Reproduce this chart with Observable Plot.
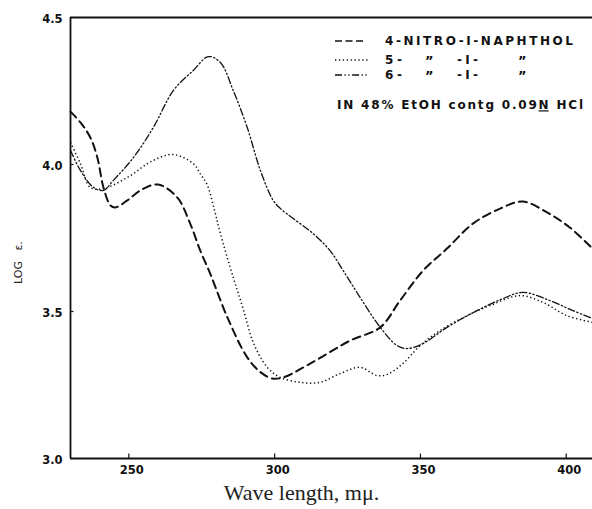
<!DOCTYPE html>
<html>
<head>
<meta charset="utf-8">
<script src="https://cdn.jsdelivr.net/npm/d3@7"></script>
<script src="https://cdn.jsdelivr.net/npm/@observablehq/plot@0.6"></script>
<style>
  html, body { margin: 0; padding: 0; background: #fff; }
  #chart { position: relative; width: 592px; height: 509px; }
</style>
</head>
<body>
<div id="chart"></div>
<script>
// ---- Data ----
const xTicks = [250, 300, 350, 400];
const yTicks = [3.0, 3.5, 4.0, 4.5];
const yTickLabels = ["3.0", "3.5", "4.0", "4.5"];

const nitro4Wl = [230, 233.4, 236.8, 239.2, 241.3, 243.7, 245.4, 249.5, 254, 260, 266.6, 271, 274.5, 277.9, 283.8, 290.6, 295, 299.2, 303, 312.2, 325.9, 336.2, 343, 350.9, 359.1, 368, 377.3, 385.1, 393.4, 401.2, 409];
const nitro4Log = [4.18, 4.143, 4.092, 4.024, 3.922, 3.861, 3.854, 3.878, 3.912, 3.932, 3.888, 3.80, 3.707, 3.629, 3.48, 3.344, 3.295, 3.272, 3.276, 3.323, 3.401, 3.446, 3.537, 3.639, 3.714, 3.799, 3.85, 3.874, 3.837, 3.786, 3.714];

const nitro5Wl = [230, 233.4, 236.8, 241.3, 249.5, 258.4, 265.3, 272.2, 274.5, 276.9, 279.5, 281.4, 285.8, 289.4, 292.8, 297.5, 301.9, 308.8, 315.6, 322.5, 329.3, 335.1, 338.6, 344, 349.9, 356.7, 366, 373.8, 384.1, 392, 400.2, 409];
const nitro5Log = [4.075, 4.003, 3.922, 3.918, 3.956, 4.014, 4.034, 4.002, 3.968, 3.93, 3.84, 3.765, 3.616, 3.503, 3.391, 3.31, 3.276, 3.259, 3.259, 3.289, 3.31, 3.282, 3.286, 3.323, 3.384, 3.435, 3.486, 3.52, 3.554, 3.531, 3.486, 3.463];

const nitro6Wl = [230, 233.4, 237.9, 241.3, 244.7, 251.6, 258.4, 265.3, 272.1, 277.3, 281.4, 285.8, 290.6, 295.1, 299.5, 302, 306.4, 313.2, 319, 323.5, 329.3, 336.2, 342, 345.4, 350.9, 359.1, 369.4, 378.3, 385.1, 394.4, 402.3, 409];
const nitro6Log = [4.048, 3.98, 3.922, 3.912, 3.946, 4.024, 4.126, 4.252, 4.32, 4.367, 4.347, 4.252, 4.126, 3.98, 3.878, 3.85, 3.816, 3.765, 3.707, 3.639, 3.548, 3.446, 3.384, 3.374, 3.391, 3.446, 3.503, 3.544, 3.565, 3.537, 3.503, 3.476];

const seriesNames = ["4-NITRO-I-NAPHTHOL", "5- ” -I- ”", "6- ” -I- ”"];
const conditionText = "IN 48% EtOH contg 0.09N HCl";
const xLabel = "Wave length, mμ.";
const yLabel = "LOG   ε.";

// ---- Build tables ----
const toRows = (wl, v) => wl.map((w, i) => ({wl: w, log: v[i]}));
const s4 = toRows(nitro4Wl, nitro4Log);
const s5 = toRows(nitro5Wl, nitro5Log);
const s6 = toRows(nitro6Wl, nitro6Log);

const styles = {
  dashed: {stroke: "#111", strokeWidth: 2, strokeDasharray: "8,5"},
  dotted: {stroke: "#111", strokeWidth: 1.5, strokeDasharray: "1.3,2.6", strokeLinecap: "butt"},
  dashdot: {stroke: "#111", strokeWidth: 1.3, strokeDasharray: "7,2.5,1.3,2.5,1.3,2.5"}
};

const tickFont = {fontFamily: "DejaVu Sans", fontWeight: "bold", fontSize: 11.5, fill: "#111"};

const xDomain = [230, 409];
const yDomain = [3.0, 4.5];

const plot = Plot.plot({
  width: 592,
  height: 509,
  marginLeft: 70,
  marginRight: 0,
  marginTop: 17,
  marginBottom: 51,
  x: {domain: xDomain},
  y: {domain: yDomain},
  style: {background: "#fff", overflow: "visible"},
  marks: [
    // frame: top, bottom, left
    Plot.ruleY([yDomain[0], yDomain[1]], {stroke: "#111", strokeWidth: 1.8}),
    Plot.ruleX([xDomain[0]], {stroke: "#111", strokeWidth: 1.8}),
    // small inward ticks
    Plot.ruleX(xTicks, {y1: yDomain[0], y2: yDomain[0] + 0.015, stroke: "#111", strokeWidth: 1.2}),
    Plot.ruleY(yTicks.slice(1, 3), {x1: xDomain[0], x2: xDomain[0] + 1.2, stroke: "#111", strokeWidth: 1.2}),
    // axes labels
    Plot.axisX(xTicks, {tickSize: 0, tickPadding: 7, label: null, ...tickFont, style: "letter-spacing:3px", dx: 3}),
    Plot.axisY(yTicks, {tickSize: 0, tickPadding: 8, label: null, dy: 2, tickFormat: (d) => yTickLabels[yTicks.indexOf(d)], ...tickFont}),
    // curves
    Plot.line(s4, {x: "wl", y: "log", curve: "catmull-rom", ...styles.dashed}),
    Plot.line(s5, {x: "wl", y: "log", curve: "catmull-rom", ...styles.dotted}),
    Plot.line(s6, {x: "wl", y: "log", curve: "catmull-rom", ...styles.dashdot}),
    // axis titles
    Plot.text([xLabel], {frameAnchor: "bottom", dx: -30, dy: 41, fontFamily: "Liberation Serif", fontSize: 22, fill: "#222", style: "letter-spacing:2.2px"}),
    Plot.text([yLabel], {frameAnchor: "left", rotate: -90, dx: -52, dy: 46, fontFamily: "DejaVu Sans", fontSize: 11, fill: "#222"})
  ]
});

document.getElementById("chart").appendChild(plot);

// ---- Legend (inside plot area, top right) ----
const svg = d3.select(plot.tagName.toLowerCase() === "svg" ? plot : plot.querySelector("svg"));
const g = svg.append("g").attr("fill", "#111").attr("font-family", "DejaVu Sans")
  .attr("font-weight", "bold").attr("font-size", 12).attr("text-anchor", "start");
const rows = [
  {y: 41, style: styles.dashed, x2: 366},
  {y: 60, style: styles.dotted, x2: 369},
  {y: 75, style: styles.dashdot, x2: 369}
];
rows.forEach(r => {
  g.append("line").attr("x1", 335).attr("x2", r.x2).attr("y1", r.y).attr("y2", r.y)
    .attr("stroke", r.style.stroke).attr("stroke-width", Math.min(r.style.strokeWidth, 1.6))
    .attr("stroke-dasharray", r.style.strokeDasharray.replace("8,5", "7,3.5"));
});
g.append("text").attr("x", 385).attr("y", 41).attr("dy", "0.36em")
  .attr("textLength", 188).attr("lengthAdjust", "spacing").text(seriesNames[0]);
[1, 2].forEach(i => {
  const parts = seriesNames[i].split(" ");
  const xs = [385, 425, 457, 518];
  parts.forEach((p, j) => {
    const t = g.append("text").attr("x", xs[j]).attr("y", rows[i].y).attr("dy", "0.36em")
      .attr("font-size", p === "”" ? 13 : 12).text(p);
    if (p.length > 1) t.attr("textLength", p === "-I-" ? 21 : 17).attr("lengthAdjust", "spacing");
  });
});
const t4 = g.append("text").attr("x", 337).attr("y", 105).attr("dy", "0.36em")
  .attr("textLength", 246).attr("lengthAdjust", "spacing");
const cParts = conditionText.split("0.09N");
t4.append("tspan").text(cParts[0] + "0.09");
t4.append("tspan").attr("text-decoration", "underline").text("N");
t4.append("tspan").text(cParts[1]);
</script>
</body>
</html>
